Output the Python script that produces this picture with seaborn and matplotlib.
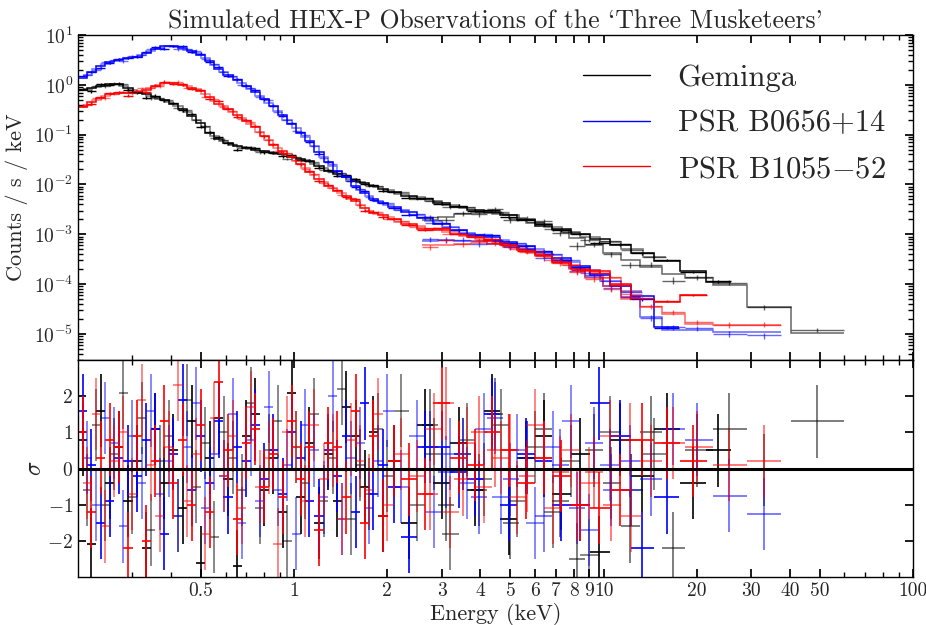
import numpy as np
import matplotlib
matplotlib.use("Agg")
import matplotlib.pyplot as plt
import seaborn as sns
from matplotlib.lines import Line2D
from matplotlib.ticker import FixedLocator, FixedFormatter, LogLocator, NullFormatter

# energy grids (bin centres, keV): soft module A, soft module B, hard module
e_let = [0.207, 0.221, 0.237, 0.254, 0.271, 0.290, 0.311, 0.332, 0.356, 0.380,
         0.407, 0.436, 0.466, 0.499, 0.534, 0.571, 0.611, 0.654, 0.699, 0.748,
         0.801, 0.857, 0.917, 0.981, 1.05, 1.12, 1.20, 1.29, 1.38, 1.47,
         1.58, 1.69, 1.80, 1.93, 2.1, 2.35, 2.65, 3.0, 3.4, 3.85,
         4.35, 4.95, 5.6, 6.4, 7.3, 8.4, 9.7, 11.3, 13.3, 16.0,
         19.5, 23.5]
e_let2 = [0.214, 0.229, 0.245, 0.262, 0.280, 0.300, 0.321, 0.344, 0.368, 0.393,
          0.421, 0.451, 0.482, 0.516, 0.552, 0.591, 0.632, 0.676, 0.723, 0.774,
          0.828, 0.886, 0.948, 1.015, 1.085, 1.16, 1.245, 1.33, 1.425, 1.525,
          1.635, 1.745, 1.865, 2.0, 2.22, 2.5, 2.82, 3.2, 3.62, 4.1,
          4.65, 5.25, 6.0, 6.85, 7.85, 9.0, 10.5, 12.3, 14.6]
e_het = [2.75, 3.1, 3.5, 3.95, 4.45, 5.0, 5.65, 6.4, 7.25, 8.2,
         9.3, 10.6, 12.2, 14.2, 16.8, 20.0, 25.5, 33.0, 49.0]

# Geminga
gem_let_flux = [0.78, 0.86, 0.95, 1.03, 1.02, 0.85, 0.70, 0.64, 0.57, 0.50,
                0.42, 0.33, 0.24, 0.17, 0.11, 0.082, 0.068, 0.059, 0.054, 0.049,
                0.046, 0.043, 0.040, 0.035, 0.033, 0.029, 0.024, 0.019, 0.016, 0.014,
                0.012, 0.0105, 0.0093, 0.0082, 0.0070, 0.0060, 0.0050, 0.0042, 0.0036, 0.0031,
                0.0028, 0.0024, 0.0019, 0.0015, 0.00125, 0.0010, 0.00079, 0.00060, 0.00042, 0.00029,
                0.00018, 0.00011]
gem_let_res = [0.8, -2.1, 1.6, -0.4, 0.6, -0.9, 0.2, -2.2, 1.1, -0.4,
               0.5, -1.1, 1.3, -2.6, 0.3, 1.4, -0.3, -2.7, 0.9, 1.5,
               -0.6, 0.3, -1.2, 2.1, -0.8, 0.7, -1.5, 0.4, -0.9, 1.7,
               0.9, -0.5, 1.0, -1.3, 0.2, -1.5, 1.2, -0.4, 0.7, -0.6,
               1.6, -1.4, 0.3, 0.9, -0.7, 0.4, -2.3, 0.8, -0.2, 1.1,
               -0.4, 0.5]
gem_let2_flux = [0.82, 0.90, 0.99, 1.03, 0.93, 0.77, 0.67, 0.60, 0.53, 0.46,
                 0.37, 0.28, 0.20, 0.14, 0.095, 0.075, 0.063, 0.056, 0.051, 0.047,
                 0.044, 0.041, 0.037, 0.034, 0.031, 0.026, 0.021, 0.0175, 0.015, 0.013,
                 0.0112, 0.0099, 0.0087, 0.0076, 0.0065, 0.0055, 0.0046, 0.0039, 0.0033, 0.0029,
                 0.0026, 0.0021, 0.0017, 0.00137, 0.00112, 0.00089, 0.00069, 0.0005, 0.00035]
gem_let2_res = [-0.6, 1.2, -1.0, 0.4, 2.1, -0.8, 1.4, -1.7, 0.2, 0.9,
                -1.3, 1.9, -0.5, 0.7, -1.9, 1.0, 0.3, -0.6, 1.8, -1.1,
                0.5, 1.3, -2.0, 0.6, -0.4, 1.5, -0.9, 0.3, 2.2, -1.4,
                0.1, -0.7, 1.1, -0.2, 1.6, -1.0, 0.4, -1.8, 0.8, -0.3,
                1.2, -0.9, 0.6, -1.2, 0.2, -2.4, 1.0, -0.6, 0.4]
gem_het_flux = [0.0019, 0.0022, 0.0025, 0.0027, 0.0027, 0.0024, 0.0020, 0.0016, 0.0012, 0.00085,
                0.00060, 0.00042, 0.00030, 0.00022, 0.00016, 0.00013, 9.5e-5, 3.5e-5, 1.05e-5]
gem_het_res = [1.2, -1.0, 0.4, -0.6, 1.5, -1.5, 0.3, 1.1, -0.9, -2.5,
               0.5, -0.4, -1.6, 1.0, -2.2, 0.5, 1.1, -0.05, 1.3]

# PSR B0656+14
b0656_let_flux = [1.38, 1.8, 2.4, 2.9, 3.2, 3.4, 3.7, 4.4, 5.3, 5.9,
                  5.9, 5.4, 4.8, 4.0, 3.0, 2.1, 1.6, 1.25, 0.95, 0.72,
                  0.52, 0.37, 0.25, 0.16, 0.11, 0.075, 0.045, 0.028, 0.019, 0.014,
                  0.0095, 0.0066, 0.0052, 0.0043, 0.0035, 0.0028, 0.0021, 0.0016, 0.0012, 0.00098,
                  0.00088, 0.00070, 0.00058, 0.00045, 0.00033, 0.00023, 0.00015, 9e-5, 5.8e-5, 1.4e-5]
b0656_let_res = [1.6, 0.1, -1.5, -0.9, 0.3, 0.2, -0.2, 0.8, 1.1, -1.8,
                 0.4, 1.9, -0.6, 0.9, -0.4, 1.3, -0.8, 0.6, 0.2, 1.2,
                 -0.3, 0.5, -0.7, 1.0, 0.3, -0.9, -1.3, 0.5, -0.2, 0.9,
                 -1.2, 1.8, -0.7, 0.1, -0.5, -1.9, 0.6, 0.6, -0.1, -0.3,
                 1.5, -1.0, 0.4, 0.2, -1.0, -1.0, 1.8, 0.9, -2.2, -0.8]
b0656_let2_flux = [1.58, 2.08, 2.64, 3.05, 3.3, 3.55, 4.03, 4.83, 5.6, 5.9,
                   5.65, 5.1, 4.4, 3.46, 2.5, 1.83, 1.41, 1.09, 0.83, 0.61,
                   0.44, 0.30, 0.20, 0.133, 0.091, 0.058, 0.0355, 0.023, 0.0163, 0.0115,
                   0.0079, 0.0059, 0.0047, 0.0039, 0.0031, 0.0024, 0.00183, 0.00139, 0.00108, 0.00093,
                   0.00078, 0.00064, 0.00051, 0.00039, 0.00028, 0.00019, 0.000116, 7.2e-5]
b0656_let2_res = [0.3, -1.0, 1.4, 0.7, -1.6, 0.9, -0.4, 1.6, -0.7, 0.2,
                  -1.3, 0.6, 1.8, -1.1, 0.4, -0.2, 1.5, -1.5, 0.8, -0.9,
                  1.7, -0.6, 0.1, -1.8, 1.2, 0.5, -0.8, 2.0, -1.4, 0.3,
                  0.7, -1.1, 0.2, 1.6, -0.5, 0.9, -1.2, 0.4, -0.4, 1.1,
                  -0.8, 0.5, -1.5, 0.6, 1.3, -1.7, 0.1, -0.6]
b0656_het_flux = [0.00075, 0.00078, 0.00075, 0.00072, 0.00065, 0.00058, 0.00050, 0.00040, 0.00030, 0.00021,
                  0.00014, 9e-5, 5.5e-5, 2.2e-5, 1.2e-5, 1.2e-5, 1.1e-5, 1.1e-5]
b0656_het_res = [0.6, -0.1, 0.4, -0.8, 1.4, -0.3, 0.3, -1.3, 0.1, -1.1,
                 0.7, -0.6, 0.2, -0.3, 1.1, 0.8, -0.75, -1.25]

# PSR B1055-52
b1055_let_flux = [0.36, 0.45, 0.55, 0.64, 0.68, 0.69, 0.72, 0.80, 0.95, 1.08,
                  1.07, 0.98, 0.88, 0.74, 0.56, 0.42, 0.32, 0.25, 0.19, 0.14,
                  0.095, 0.062, 0.046, 0.035, 0.026, 0.018, 0.013, 0.0095, 0.0075, 0.0058,
                  0.0046, 0.0033, 0.0027, 0.0024, 0.0020, 0.0016, 0.0013, 0.0012, 0.0010, 0.00088,
                  0.00075, 0.00060, 0.00048, 0.00038, 0.00028, 0.00020, 0.00018, 0.00010, 5e-5, 4.4e-5,
                  6e-5]
b1055_let_res = [1.0, -1.2, 0.3, 0.8, 0.6, -2.2, 0.9, -2.0, 0.2, 1.3,
                 -0.4, 0.8, -1.0, 1.2, -1.2, 2.4, 0.5, -1.4, 0.7, 1.1,
                 -0.5, 0.4, -0.8, 1.3, -0.3, 0.6, -1.7, 0.7, 0.6, -0.8,
                 1.6, -1.5, 0.9, -1.3, 0.2, -0.3, -0.7, 1.8, 0.3, 0.1,
                 1.0, 0.5, -0.4, 0.3, -0.2, -1.0, -1.1, -0.6, 0.8, 0.7,
                 0.2]
b1055_let2_flux = [0.40, 0.50, 0.59, 0.66, 0.685, 0.705, 0.76, 0.87, 1.01, 1.075,
                   1.02, 0.93, 0.81, 0.64, 0.48, 0.37, 0.28, 0.22, 0.163, 0.115,
                   0.077, 0.053, 0.04, 0.030, 0.0216, 0.0153, 0.0111, 0.0084, 0.0066, 0.0052,
                   0.0039, 0.003, 0.00255, 0.0022, 0.0018, 0.00144, 0.00125, 0.0011, 0.00094, 0.00081,
                   0.00067, 0.00054, 0.00043, 0.00033, 0.00024, 0.00019, 0.000134, 7e-5]
b1055_let2_res = [-0.4, 1.5, -1.6, 0.2, 1.0, -0.7, 1.9, 0.1, -1.3, 0.6,
                  2.3, -0.9, 0.4, -1.8, 1.4, -0.2, 0.9, -1.1, 1.7, -0.5,
                  0.3, -2.1, 1.0, 0.6, -0.9, 1.2, -0.3, 0.5, -1.4, 0.8,
                  0.2, -0.6, 1.5, -1.0, 0.4, -0.2, 1.1, -1.2, 0.7, -0.5,
                  0.3, -0.8, 1.2, -1.1, 0.5, -0.4, 0.9, -1.3]
b1055_het_flux = [0.0006, 0.00062, 0.00065, 0.00067, 0.00063, 0.00055, 0.00046, 0.00036, 0.00027, 0.0002,
                  0.00013, 9e-5, 5e-5, 3.5e-5, 2.5e-5, 1.6e-5, 1.5e-5, 1.5e-5]
b1055_het_res = [-0.7, 1.8, -0.3, 1.0, 0.5, 0.5, -0.2, 0.3, -0.1, -1.0,
                 -0.1, -1.0, 0.8, 0.2, 0.7, 0.6, 0.1, 0.2]

labels = ["Geminga", "PSR B0656+14", r"PSR B1055$-$52"]
colors = ["#000000", "#0000ff", "#ff0000"]
let_frac = 0.06
het_frac = 0.12

sns.set_theme(style="ticks", color_codes=False)
plt.rcParams.update({
    "mathtext.fontset": "cm",
    "axes.formatter.use_mathtext": True,
    "axes.linewidth": 1.0,
    "xtick.direction": "in", "ytick.direction": "in",
    "xtick.top": True, "ytick.right": True,
    "xtick.major.size": 6, "ytick.major.size": 6,
    "xtick.minor.size": 3.5, "ytick.minor.size": 3.5,
    "xtick.labelsize": 14, "ytick.labelsize": 14,
    "axes.edgecolor": "black",
})
plt.rcParams["font.family"] = ["cmr10", "DejaVu Serif"]


def edges_of(e):
    e = np.asarray(e)
    mid = np.sqrt(e[1:] * e[:-1])
    return np.concatenate([[e[0] ** 2 / mid[0]], mid, [e[-1] ** 2 / mid[-1]]])


fig = plt.figure(figsize=(9.26, 6.25), dpi=100)
ax1 = fig.add_axes([0.0842, 0.424, 0.9017, 0.52])
ax2 = fig.add_axes([0.0842, 0.0768, 0.9017, 0.3472], sharex=ax1)

sets = [
    [(gem_let_flux, gem_let_res, e_let, 1.0, let_frac),
     (gem_let2_flux, gem_let2_res, e_let2, 0.55, let_frac),
     (gem_het_flux, gem_het_res, e_het, 0.6, het_frac)],
    [(b0656_let_flux, b0656_let_res, e_let, 1.0, let_frac),
     (b0656_let2_flux, b0656_let2_res, e_let2, 0.55, let_frac),
     (b0656_het_flux, b0656_het_res, e_het, 0.6, het_frac)],
    [(b1055_let_flux, b1055_let_res, e_let, 1.0, let_frac),
     (b1055_let2_flux, b1055_let2_res, e_let2, 0.55, let_frac),
     (b1055_het_flux, b1055_het_res, e_het, 0.6, het_frac)],
]

for group, color in zip(sets, colors):
    for flux, res, grid, alpha, frac in group:
        flux = np.array(flux)
        res = np.array(res)
        e = np.array(grid[:len(flux)])
        edges = edges_of(e)
        xerr = [e - edges[:-1], edges[1:] - e]
        err = frac * flux
        ax1.stairs(flux, edges, baseline=None, color=color, alpha=alpha, lw=1.1)
        ax1.errorbar(e, flux + res * err, xerr=xerr, yerr=err, fmt="none",
                     ecolor=color, alpha=alpha, elinewidth=1.0)
        ax2.errorbar(e, res, xerr=xerr, yerr=1.0, fmt="none",
                     ecolor=color, alpha=alpha, elinewidth=1.2)

ax2.axhline(0, color="k", lw=2.2, zorder=6)

ax1.set_xscale("log")
ax1.set_yscale("log")
ax1.set_xlim(0.2, 100)
ax1.set_ylim(3e-6, 10)
ax1.yaxis.set_major_locator(LogLocator(base=10, numticks=10))
ax1.yaxis.set_minor_locator(LogLocator(base=10, subs=np.arange(2, 10), numticks=12))
ax1.yaxis.set_minor_formatter(NullFormatter())

major_x = [0.5, 1, 2, 3, 4, 5, 6, 7, 8, 9, 10, 20, 30, 40, 50, 100]
minor_x = [0.3, 0.4, 0.6, 0.7, 0.8, 0.9, 60, 70, 80, 90]
ax2.xaxis.set_major_locator(FixedLocator(major_x))
ax2.xaxis.set_major_formatter(FixedFormatter([f"{v:g}" for v in major_x]))
ax2.xaxis.set_minor_locator(FixedLocator(minor_x))
ax2.xaxis.set_minor_formatter(NullFormatter())
ax1.tick_params(which="both", labelbottom=False)

ax2.set_ylim(-3, 3)
ax2.set_yticks([-2, -1, 0, 1, 2])
for ax in (ax1, ax2):
    ax.tick_params(which="both", direction="in", top=True, right=True, color="k")

ax1.set_ylabel("Counts / s / keV", fontsize=16)
ax2.set_ylabel(r"$\sigma$", fontsize=17, labelpad=1)
ax2.set_xlabel("Energy (keV)", fontsize=16, labelpad=2)
ax1.set_title("Simulated HEX-P Observations of the `Three Musketeers'", fontsize=18.5, pad=5)

handles = [Line2D([], [], color=c, lw=1.0) for c in colors]
ax1.legend(handles, labels, loc="upper right", frameon=False, fontsize=22,
           handlelength=2.2, handletextpad=0.9, labelspacing=0.6,
           bbox_to_anchor=(1.0, 0.995))

fig.savefig("out.png", dpi=100)
